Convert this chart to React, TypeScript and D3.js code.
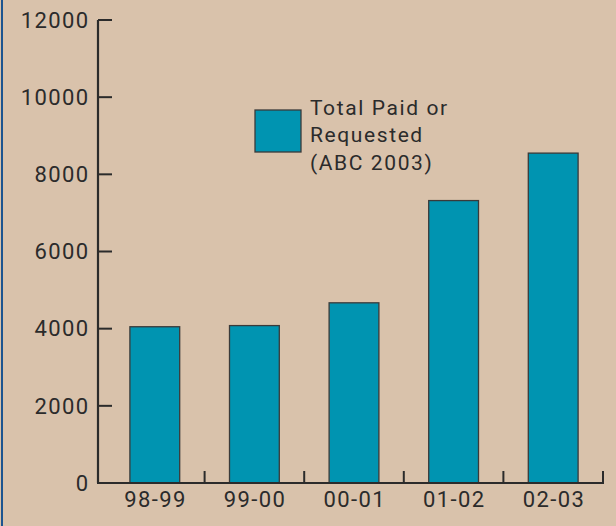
import { useEffect, useRef } from 'react';
import * as d3 from 'd3';

const CATEGORIES = ['98-99', '99-00', '00-01', '01-02', '02-03'];
const VALUES = [4050, 4080, 4670, 7320, 8550];
const Y_TICKS = [0, 2000, 4000, 6000, 8000, 10000, 12000];
const LEGEND_LINES = ['Total Paid or', 'Requested', '(ABC 2003)'];

const BG = '#D9C2AB';
const BAR = '#0094B1';
const INK = '#2B2B2B';
const FONT = "Roboto, 'DejaVu Sans', sans-serif";

export default function App() {
  const svgRef = useRef<SVGSVGElement>(null);

  useEffect(() => {
    document.body.style.margin = '0';
    const el = svgRef.current;
    if (!el) return;
    const svg = d3.select(el);
    svg.selectAll('*').remove();

    const W = 616;
    const H = 526;
    const axisX = 98;

    svg.attr('width', W).attr('height', H);
    svg.append('rect').attr('width', W).attr('height', H).attr('fill', BG);
    // left frame edge
    svg.append('line').attr('x1', 2).attr('x2', 2).attr('y1', 0).attr('y2', H)
      .attr('stroke', '#1C5490').attr('stroke-width', 2);

    const y = d3.scaleLinear().domain([0, 12000]).range([483, 20]);
    const outer = d3.scaleBand<string>().domain(CATEGORIES).range([105, 603]).padding(0);
    const x = d3.scaleBand<string>().domain(CATEGORIES).range([105, 603])
      .paddingInner(0.5).paddingOuter(0.25);

    // bars
    svg.append('g').selectAll('rect').data(VALUES).join('rect')
      .attr('x', (_, i) => x(CATEGORIES[i])!)
      .attr('width', x.bandwidth())
      .attr('y', (d) => y(d))
      .attr('height', (d) => y(0) - y(d))
      .attr('fill', BAR)
      .attr('stroke', '#3A3A3A')
      .attr('stroke-width', 1.3);

    // y axis
    const ya = svg.append('g');
    ya.append('line').attr('x1', axisX).attr('x2', axisX).attr('y1', y(12000)).attr('y2', y(0))
      .attr('stroke', INK).attr('stroke-width', 2.2);
    ya.selectAll('line.tk').data(Y_TICKS).join('line').attr('class', 'tk')
      .attr('x1', axisX).attr('x2', axisX + 14)
      .attr('y1', (d) => y(d)).attr('y2', (d) => y(d))
      .attr('stroke', INK).attr('stroke-width', 2);
    ya.selectAll('text').data(Y_TICKS).join('text')
      .attr('x', 89.5).attr('y', (d) => y(d)).attr('dy', '0.35em')
      .attr('text-anchor', 'end').attr('font-family', FONT).attr('font-size', 22)
      .attr('letter-spacing', 1.4)
      .attr('fill', INK).text((d) => String(d));

    // x axis
    const xa = svg.append('g');
    xa.append('line').attr('x1', axisX - 1).attr('x2', outer(CATEGORIES[CATEGORIES.length - 1])! + outer.bandwidth() + 1)
      .attr('y1', y(0)).attr('y2', y(0))
      .attr('stroke', INK).attr('stroke-width', 2.2);
    xa.selectAll('line.tk').data(CATEGORIES).join('line').attr('class', 'tk')
      .attr('x1', (d) => outer(d)! + outer.bandwidth()).attr('x2', (d) => outer(d)! + outer.bandwidth())
      .attr('y1', y(0)).attr('y2', y(0) - 12)
      .attr('stroke', INK).attr('stroke-width', 2);
    xa.selectAll('text').data(CATEGORIES).join('text')
      .attr('x', (d) => x(d)! + x.bandwidth() / 2 + 0.7).attr('y', 507)
      .attr('text-anchor', 'middle').attr('font-family', FONT).attr('font-size', 22)
      .attr('letter-spacing', 1.4)
      .attr('fill', INK).text((d) => d);

    // legend
    const lg = svg.append('g');
    lg.append('rect').attr('x', 255).attr('y', 110).attr('width', 46).attr('height', 42)
      .attr('fill', BAR).attr('stroke', '#3A3A3A').attr('stroke-width', 1.3);
    lg.selectAll('text').data(LEGEND_LINES).join('text')
      .attr('x', 310).attr('y', (_, i) => 115 + i * 27.3)
      .attr('font-family', FONT).attr('font-size', 21).attr('fill', INK)
      .attr('letter-spacing', 1.6)
      .text((d) => d);
  }, []);

  return <svg ref={svgRef} style={{ display: 'block' }} />;
}
